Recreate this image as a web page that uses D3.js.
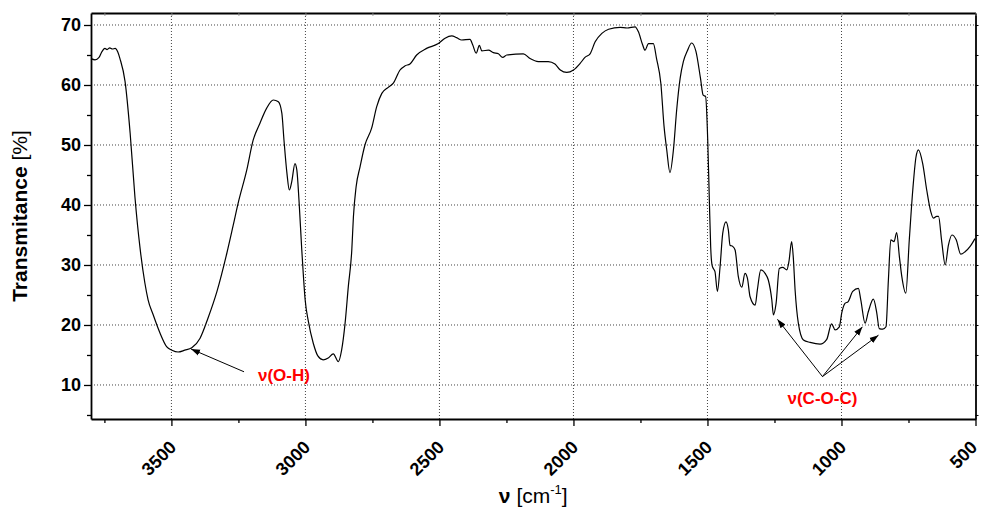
<!DOCTYPE html>
<html>
<head>
<meta charset="utf-8">
<script src="https://cdn.jsdelivr.net/npm/d3@7"></script>
<style>
  body { margin: 0; background: #fff; }
  svg text { font-family: Arial, "Liberation Sans", sans-serif; }
</style>
</head>
<body>
<div id="graph"></div>
<script>
// IR spectrum
var wavenumber = [3800, 3785, 3770, 3760, 3748, 3740, 3730, 3720, 3710, 3700, 3692, 3673, 3654, 3636, 3617, 3599, 3587, 3568, 3543, 3518, 3498, 3475, 3450, 3424, 3393, 3363, 3330, 3293, 3270, 3251, 3219, 3195, 3170, 3145, 3120, 3101, 3088, 3080, 3069, 3060, 3051, 3039, 3032, 3024, 3014, 3008, 3001, 2989, 2971, 2953, 2934, 2915, 2896, 2877, 2865, 2852, 2840, 2827, 2821, 2811, 2796, 2778, 2753, 2734, 2715, 2691, 2672, 2647, 2628, 2610, 2585, 2548, 2504, 2479, 2454, 2436, 2417, 2386, 2376, 2363, 2351, 2342, 2317, 2299, 2280, 2264, 2249, 2187, 2162, 2131, 2094, 2069, 2049, 2025, 2000, 1975, 1957, 1938, 1919, 1894, 1869, 1826, 1800, 1770, 1758, 1742, 1733, 1720, 1702, 1690, 1674, 1662, 1652, 1640, 1627, 1615, 1602, 1590, 1575, 1559, 1543, 1526, 1516, 1507, 1499, 1493, 1488, 1483, 1478, 1472, 1463, 1453, 1443, 1431, 1422, 1416, 1406, 1397, 1385, 1372, 1360, 1351, 1341, 1322, 1314, 1301, 1285, 1273, 1260, 1254, 1244, 1232, 1219, 1204, 1196, 1186, 1180, 1173, 1161, 1142, 1117, 1080, 1055, 1037, 1024, 1008, 999, 987, 975, 958, 937, 928, 912, 900, 881, 869, 859, 846, 834, 825, 816, 804, 794, 784, 775, 760, 747, 734, 722, 713, 697, 682, 667, 657, 645, 638, 626, 613, 601, 588, 572, 555, 539, 520, 502]
var transmittance = [64.4, 64.2, 64.6, 65.5, 66.1, 65.9, 66.2, 66.0, 66.1, 65.5, 64.4, 60.6, 52, 41.3, 32.8, 27, 24.2, 21.7, 18.7, 16.4, 15.8, 15.5, 15.8, 16.2, 17.8, 21.2, 25.6, 32, 36.5, 40.3, 45.8, 50.8, 53.6, 56.1, 57.5, 57.2, 55.3, 50.8, 45.3, 42.5, 43.9, 46.9, 45.8, 40.8, 32.8, 28.5, 24.2, 20.6, 17, 14.8, 14.2, 14.5, 15.2, 13.9, 15.8, 20.3, 26.4, 32.5, 38, 43, 46.4, 50, 52.8, 56.4, 58.6, 59.6, 60.3, 62.5, 63.2, 63.5, 65, 66.1, 66.9, 67.8, 68.2, 67.9, 67.5, 67.6, 66.7, 65.3, 66.6, 65.7, 65.8, 65.4, 65.2, 64.6, 65, 65.2, 64.4, 63.9, 63.9, 63.5, 62.5, 62.1, 62.5, 63.6, 64.6, 65.2, 67.2, 68.6, 69.3, 69.6, 69.5, 69.7, 68.9, 66.7, 65.8, 66.9, 66.9, 64.4, 60.3, 53.1, 49.2, 45.4, 49.2, 55.8, 61.1, 63.9, 65.7, 67, 65.6, 61.1, 58.3, 58.1, 50.8, 40.8, 33, 30, 29.4, 28.9, 25.6, 29.7, 35.3, 37.2, 35.8, 33.3, 33.1, 32.5, 28.1, 26.3, 28.6, 27.8, 24.7, 23.3, 25.8, 29.2, 28.6, 27.5, 24.2, 21.7, 23.6, 29.4, 29.6, 29.2, 30.6, 33.9, 31.4, 25.8, 20.3, 17.5, 17.1, 16.8, 17.6, 20.2, 19.2, 19.7, 22, 23.6, 23.9, 25.6, 26.1, 24.2, 20.3, 22.2, 24.3, 22.2, 19.4, 19.3, 19.7, 27.5, 34.2, 33.9, 35.4, 31.4, 28.1, 25.3, 34.2, 42.5, 48, 49.2, 46.9, 42.5, 38.9, 37.8, 38.1, 38.1, 33.9, 30, 33.3, 35, 34.2, 31.8, 32.2, 33.1, 34.4]

var xTicks = [3500, 3000, 2500, 2000, 1500, 1000, 500]
var xMinor = [3750, 3250, 2750, 2250, 1750, 1250, 750]
var yTicks = [10, 20, 30, 40, 50, 60, 70]
var yMinor = [5, 15, 25, 35, 45, 55, 65]

// annotations: label, text position, arrow start, arrow tips
var ohLabel = 'ν(O-H)'
var ohText = [3080, 10.7]
var ohArrow = [[3229, 12.2], [3427, 16]]
var cocLabel = 'ν(C-O-C)'
var cocText = [1071, 6.8]
var cocFrom = [1071, 11.4]
var cocTips = [[1239, 20.95], [922, 19.7], [862, 18.3]]

var W = 982, H = 508
var m = {left: 91, right: 6.5, top: 13, bottom: 89}
var pw = W - m.left - m.right, ph = H - m.top - m.bottom

var x = d3.scaleLinear().domain([3800, 500]).range([0, pw])
var y = d3.scaleLinear().domain([4.33, 72]).range([ph, 0])

var svg = d3.select('#graph').append('svg')
    .attr('width', W).attr('height', H)

svg.append('defs').append('marker')
    .attr('id', 'head')
    .attr('viewBox', '0 0 10 10')
    .attr('refX', 10).attr('refY', 5)
    .attr('markerWidth', 9).attr('markerHeight', 9)
    .attr('markerUnits', 'userSpaceOnUse')
    .attr('orient', 'auto')
  .append('path')
    .attr('d', 'M0,1.5 L10,5 L0,8.5 Z')
    .attr('fill', '#000')

var g = svg.append('g').attr('transform', 'translate(' + m.left + ',' + m.top + ')')

// grid
g.append('g').selectAll('line').data(xTicks.filter(function(d){ return d > 500 }))
  .join('line')
    .attr('x1', x).attr('x2', x).attr('y1', 0).attr('y2', ph)
    .attr('stroke', '#444').attr('stroke-width', 1).attr('stroke-dasharray', '1,2')
g.append('g').selectAll('line').data(yTicks)
  .join('line')
    .attr('y1', y).attr('y2', y).attr('x1', 0).attr('x2', pw)
    .attr('stroke', '#444').attr('stroke-width', 1).attr('stroke-dasharray', '1,2')

// spectrum
var pts = wavenumber.map(function(d, i){ return [d, transmittance[i]] })
g.append('path')
    .datum(pts)
    .attr('fill', 'none')
    .attr('stroke', '#000')
    .attr('stroke-width', 1.2)
    .attr('d', d3.line().x(function(d){ return x(d[0]) }).y(function(d){ return y(d[1]) }).curve(d3.curveMonotoneX))

// axes
var xMin = g.append('g').attr('transform', 'translate(0,' + ph + ')')
    .call(d3.axisBottom(x).tickValues(xMinor).tickSize(4).tickFormat(''))
xMin.select('.domain').remove()
var xAxis = g.append('g').attr('transform', 'translate(0,' + ph + ')')
    .call(d3.axisBottom(x).tickValues(xTicks).tickSize(7).tickSizeOuter(0).tickFormat(d3.format('d')))
xAxis.selectAll('text')
    .attr('y', 0).attr('dy', '0.35em')
    .attr('text-anchor', 'end')
    // last label pulled in a bit so it stays inside the page
    .attr('transform', function(d){ return 'translate(' + (d === 500 ? -2 : 1) + ',25) rotate(-45)' })

var yAxis = g.append('g')
    .call(d3.axisLeft(y).tickValues(yTicks).tickSize(7).tickSizeOuter(0))
var yMin = g.append('g')
    .call(d3.axisLeft(y).tickValues(yMinor).tickSize(4).tickFormat(''))
yMin.select('.domain').remove()

var rAxis = g.append('g').attr('transform', 'translate(' + pw + ',0)')
    .call(d3.axisRight(y).tickValues(yTicks.concat(yMinor)).tickSize(3).tickSizeOuter(0).tickFormat(''))
var tAxis = g.append('g')
    .call(d3.axisTop(x).tickValues(xTicks.concat(xMinor)).tickSize(-3).tickSizeOuter(0).tickFormat(''))

g.selectAll('.tick text')
    .attr('font-size', 18).attr('font-weight', 'bold').attr('fill', '#000')
    .attr('font-family', 'Arial, "Liberation Sans", sans-serif')
g.selectAll('.tick line').attr('stroke', '#000').attr('stroke-width', 1.3)
g.selectAll('.domain').attr('stroke', '#000').attr('stroke-width', 1.8)
yAxis.selectAll('.tick text').attr('x', -10)
tAxis.selectAll('.tick line').attr('stroke-width', 0.8).attr('stroke', '#888')
rAxis.selectAll('.tick line').attr('stroke-width', 1)

// axis titles
svg.append('text')
    .attr('transform', 'translate(27,' + (m.top + ph / 2) + ') rotate(-90)')
    .attr('text-anchor', 'middle')
    .attr('font-size', 21)
    .call(function(t){
      t.append('tspan').attr('font-weight', 'bold').text('Transmitance')
      t.append('tspan').text(' [%]')
    })

svg.append('text')
    .attr('x', m.left + pw / 2).attr('y', 503)
    .attr('text-anchor', 'middle')
    .attr('font-size', 21)
    .call(function(t){
      t.append('tspan').attr('font-weight', 'bold').text('ν')
      t.append('tspan').text(' [cm')
      t.append('tspan').attr('font-size', 13).attr('dy', -9).text('-1')
      t.append('tspan').attr('dy', 9).text(']')
    })

// annotations
g.append('line')
    .attr('x1', x(ohArrow[0][0])).attr('y1', y(ohArrow[0][1]))
    .attr('x2', x(ohArrow[1][0])).attr('y2', y(ohArrow[1][1]))
    .attr('stroke', '#000').attr('stroke-width', 1)
    .attr('marker-end', 'url(#head)')
g.append('text')
    .attr('x', x(ohText[0])).attr('y', y(ohText[1]))
    .attr('text-anchor', 'middle')
    .attr('font-size', 17).attr('font-weight', 'bold').attr('fill', '#ff0000')
    .text(ohLabel)

g.append('g').selectAll('line').data(cocTips)
  .join('line')
    .attr('x1', x(cocFrom[0])).attr('y1', y(cocFrom[1]))
    .attr('x2', function(d){ return x(d[0]) }).attr('y2', function(d){ return y(d[1]) })
    .attr('stroke', '#000').attr('stroke-width', 1)
    .attr('marker-end', 'url(#head)')
g.append('text')
    .attr('x', x(cocText[0])).attr('y', y(cocText[1]))
    .attr('text-anchor', 'middle')
    .attr('font-size', 17).attr('font-weight', 'bold').attr('fill', '#ff0000')
    .text(cocLabel)
</script>
</body>
</html>
